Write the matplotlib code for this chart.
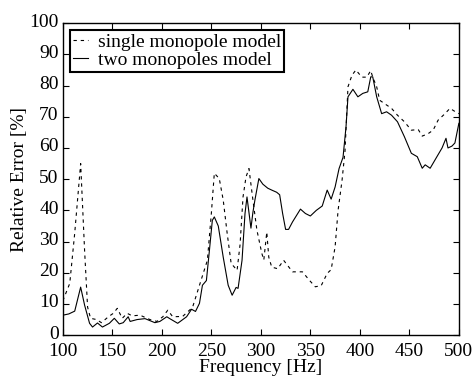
import matplotlib
matplotlib.use('Agg')
import matplotlib.pyplot as plt
import matplotlib.transforms as mtransforms

plt.rcParams['font.family'] = ['Liberation Serif', 'DejaVu Serif']

# single monopole model (dashed)
freq_single = [100, 107, 112, 118, 122, 125, 128, 134, 139, 146, 151, 155, 160, 165, 170,
               178, 188, 195, 201, 206, 211, 221, 231, 241, 246, 250, 253, 258, 262, 266,
               270, 276, 279, 282, 285, 288, 292, 296, 301, 303, 306, 308, 311, 317, 323,
               332, 342, 349, 355, 361, 367, 371, 375, 378, 382, 385, 388, 392, 396, 402,
               407, 411, 413, 417, 420, 425, 432, 438, 445, 452, 459, 463, 469, 474, 479,
               486, 491, 496, 500]
err_single = [11.0, 16.6, 32.7, 55.0, 27.0, 9.0, 5.4, 5.0, 4.0, 5.9, 7.0, 8.6, 5.4, 7.0, 6.2,
              6.4, 5.0, 4.4, 5.9, 8.0, 5.9, 6.0, 8.9, 19.0, 24.0, 39.0, 51.9, 50.2, 43.3, 32.6,
              23.0, 20.8, 29.0, 44.3, 50.7, 53.4, 43.3, 33.7, 26.2, 24.1, 33.0, 25.0, 21.8, 21.3, 24.0,
              20.3, 20.3, 17.6, 15.5, 15.9, 19.8, 21.0, 28.3, 40.0, 49.6, 59.0, 79.6, 83.3, 85.0, 82.7,
              82.7, 84.8, 82.7, 79.6, 75.3, 74.2, 72.7, 70.5, 68.4, 65.7, 65.9, 63.8, 64.6, 65.7, 68.9,
              71.0, 72.7, 71.7, 71.0]

# two monopoles model (solid)
freq_two = [100, 106, 112, 118, 122, 127, 130, 135, 140, 147, 152, 157, 161, 166, 168,
            175, 183, 193, 198, 205, 208, 216, 225, 230, 234, 238, 241, 245, 248, 251,
            253, 257, 262, 267, 271, 275, 277, 281, 284, 286, 290, 292, 294, 298, 302,
            307, 311, 316, 319, 322, 325, 328, 332, 340, 345, 350, 356, 362, 367, 371,
            375, 379, 383, 386, 388, 393, 398, 403, 408, 411, 413, 417, 422, 427, 432,
            438, 445, 452, 458, 463, 466, 471, 478, 483, 487, 489, 493, 496, 500]
err_two = [6.4, 6.8, 7.7, 15.4, 9.6, 3.8, 2.6, 3.9, 2.6, 3.8, 5.4, 3.6, 4.0, 5.9, 4.4,
           5.0, 5.3, 4.0, 4.4, 5.9, 5.3, 3.8, 5.9, 8.3, 7.6, 10.2, 16.0, 17.5, 27.0, 36.8,
           37.9, 35.0, 25.0, 16.0, 12.8, 15.3, 15.0, 24.0, 39.0, 44.3, 34.3, 39.4, 43.3, 50.2, 48.4,
           47.1, 46.5, 45.8, 45.0, 39.0, 33.9, 33.9, 36.3, 40.4, 39.0, 38.2, 40.0, 41.4, 46.5, 43.6,
           47.5, 53.4, 57.0, 66.7, 76.4, 78.8, 76.4, 77.5, 78.0, 82.8, 82.8, 76.4, 71.0, 71.6, 70.5,
           68.4, 63.6, 58.3, 57.2, 53.5, 54.6, 53.5, 57.3, 60.0, 63.1, 60.0, 60.6, 61.6, 67.9]

fig = plt.figure(figsize=(4.76, 3.8), dpi=100)
ax = fig.add_axes([0.132, 0.118, 0.832, 0.821])

ax.plot(freq_single, err_single, color='black', lw=0.8, linestyle=(0, (3, 3.5)),
        label='single monopole model')
ax.plot(freq_two, err_two, color='black', lw=0.8, label='two monopoles model')

ax.set_xlim(100, 500)
ax.set_ylim(0, 100)
ax.set_xticks(range(100, 501, 50))
ax.set_yticks(range(0, 101, 10))
ax.tick_params(direction='in', top=True, right=True, labelsize=14, length=4, width=0.8)
ax.tick_params(axis='x', pad=6)
ax.tick_params(axis='y', pad=3)
for s in ax.spines.values():
    s.set_linewidth(1.0)

# y tick labels sit slightly above their ticks, as in the original
shift = mtransforms.ScaledTranslation(0, 3 / 100, fig.dpi_scale_trans)
for lbl in ax.get_yticklabels():
    lbl.set_transform(lbl.get_transform() + shift)

ax.set_xlabel('Frequency [Hz]', fontsize=14, labelpad=-1)
ax.set_ylabel('Relative Error [%]', fontsize=14, labelpad=1)

leg = ax.legend(loc='upper left', fontsize=14, frameon=True, fancybox=False,
                handlelength=0.8, handletextpad=0.5, borderpad=0.15, labelspacing=0.05,
                borderaxespad=0.35)
leg.get_frame().set_edgecolor('black')
leg.get_frame().set_linewidth(1.5)
leg.get_frame().set_alpha(1)

fig.savefig('out.png', dpi=100)
